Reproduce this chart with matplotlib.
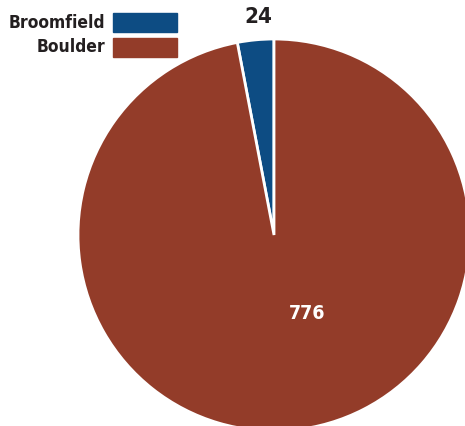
import matplotlib
matplotlib.use("Agg")
import matplotlib.pyplot as plt
from matplotlib.patches import Rectangle

categories = ["Broomfield", "Boulder"]
values = [24, 776]
colors = ["#0d4c83", "#933c29"]

plt.rcParams['font.family'] = ['DejaVu Sans']
plt.rcParams['font.stretch'] = 'condensed'

W, H = 465, 426
fig = plt.figure(figsize=(W / 100, H / 100), dpi=100)

# pie centre and radius in pixels
cx, cy, r = 274, 235, 196
ax = fig.add_axes([(cx - r) / W, (H - cy - r) / H, 2 * r / W, 2 * r / H])
ax.pie(values, colors=colors, startangle=90, counterclock=True, radius=1,
       wedgeprops=dict(edgecolor='white', linewidth=2))
ax.set_xlim(-1, 1)
ax.set_ylim(-1, 1)
ax.set_aspect('equal')
ax.axis('off')

# value labels
ax.text(-0.08, 1.11, str(values[0]), ha='center', va='center',
        fontsize=16, fontweight='bold', color='#231f20')
ax.text(0.17, -0.40, str(values[1]), ha='center', va='center',
        fontsize=14, fontweight='bold', color='white')

# legend drawn by hand: label on the left, colour box to its right
for i, (cat, col) in enumerate(zip(categories, colors)):
    ytop = 13 + i * 25
    fig.patches.append(Rectangle((113 / W, 1 - (ytop + 19) / H), 64 / W, 19 / H,
                                 transform=fig.transFigure, color=col, figure=fig))
    fig.text(105 / W, 1 - (ytop + 9.5) / H, cat, ha='right', va='center',
             fontsize=12.5, fontweight='bold', color='#231f20')

fig.savefig("out.png", dpi=100)
